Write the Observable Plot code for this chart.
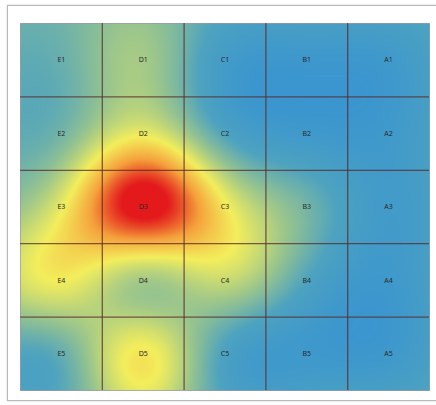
<!DOCTYPE html>
<html><head><meta charset="utf-8">
<script src="https://cdn.jsdelivr.net/npm/d3@7"></script>
<script src="https://cdn.jsdelivr.net/npm/@observablehq/plot@0.6"></script>
<style>
body{margin:0;background:#fff;font-family:"Liberation Sans",Arial,sans-serif;}
#wrap{position:relative;width:436px;height:405px;}
#box{position:absolute;left:7px;top:5px;width:430px;height:396px;border:1px solid #b8b8b8;box-shadow:0 0 2px #ccc;box-sizing:border-box;pointer-events:none;}
#wrap svg{position:absolute;left:0;top:0;}
</style></head>
<body><div id="wrap"><div id="box"></div></div>
<script>
const columns = ["E","D","C","B","A"];
const rows = ["1","2","3","4","5"];
// estimated intensity at each cell centre (row by row, columns E..A)
const values = [
  [0.27, 0.42, 0.10, 0.04, 0.06],
  [0.30, 0.58, 0.20, 0.06, 0.06],
  [0.58, 1.05, 0.62, 0.30, 0.08],
  [0.60, 0.42, 0.50, 0.20, 0.05],
  [0.26, 0.62, 0.18, 0.05, 0.05]
];
const colorStops = [0, 0.2, 0.4, 0.6, 0.8, 1];
const colorRange = ["#3a95d0", "#4ea3bf", "#9cc68c", "#f3ee5c", "#f5a03c", "#e3191c"];

const cells = [];
rows.forEach((r, ri) => columns.forEach((c, ci) => {
  cells.push({label: c + r, col: ci, row: ri, v: values[ri][ci]});
}));

// Gaussian radial-basis interpolation through the cell-centre values
function rbfInterp(index, width, height, X, Y, V) {
  const cw = width / 5, ch = height / 5, s = 0.65;
  const idx = Array.from(index);
  const n = idx.length;
  const px = idx.map(k => X[k] / cw), py = idx.map(k => Y[k] / ch), pv = idx.map(k => +V[k]);
  const mean = d3.mean(pv);
  const phi = (dx, dy) => Math.exp(-(dx * dx + dy * dy) / (2 * s * s));
  const A = [];
  for (let a = 0; a < n; a++) {
    const row = [];
    for (let b = 0; b < n; b++) row.push(phi(px[a] - px[b], py[a] - py[b]));
    row.push(pv[a] - mean);
    A.push(row);
  }
  for (let c = 0; c < n; c++) {
    let p = c;
    for (let r = c + 1; r < n; r++) if (Math.abs(A[r][c]) > Math.abs(A[p][c])) p = r;
    [A[c], A[p]] = [A[p], A[c]];
    for (let r = 0; r < n; r++) {
      if (r === c) continue;
      const f = A[r][c] / A[c][c];
      for (let k = c; k <= n; k++) A[r][k] -= f * A[c][k];
    }
  }
  const w = A.map((row, i) => row[n] / row[i]);
  const out = new Float64Array(width * height);
  for (let j = 0; j < height; j++) {
    const y = (j + 0.5) / ch;
    for (let i = 0; i < width; i++) {
      const x = (i + 0.5) / cw;
      let v = mean;
      for (let k = 0; k < n; k++) v += w[k] * phi(x - px[k], y - py[k]);
      out[j * width + i] = v;
    }
  }
  return out;
}

const chart = Plot.plot({
  width: 436, height: 405,
  marginLeft: 20, marginRight: 7, marginTop: 23, marginBottom: 15,
  x: {domain: [0, 5], axis: null},
  y: {domain: [0, 5], reverse: true, axis: null},
  color: {type: "linear", domain: colorStops, range: colorRange, clamp: true},
  marks: [
    Plot.raster(cells, {x: d => d.col + 0.5, y: d => d.row + 0.5, fill: "v",
      x1: 0, x2: 5, y1: 0, y2: 5, interpolate: rbfInterp}),
    Plot.ruleX([1, 2, 3, 4], {stroke: "#5a2a2a", strokeOpacity: 0.75, strokeWidth: 1.3}),
    Plot.ruleY([1, 2, 3, 4], {stroke: "#5a2a2a", strokeOpacity: 0.75, strokeWidth: 1.3}),
    Plot.frame({stroke: "#5a4a6a", strokeOpacity: 0.4}),
    Plot.text(cells, {x: d => d.col + 0.5, y: d => d.row + 0.5, text: "label",
      fontSize: 7, fill: "#2a2a2a"})
  ]
});
document.getElementById("wrap").appendChild(chart);
</script>
</body></html>
